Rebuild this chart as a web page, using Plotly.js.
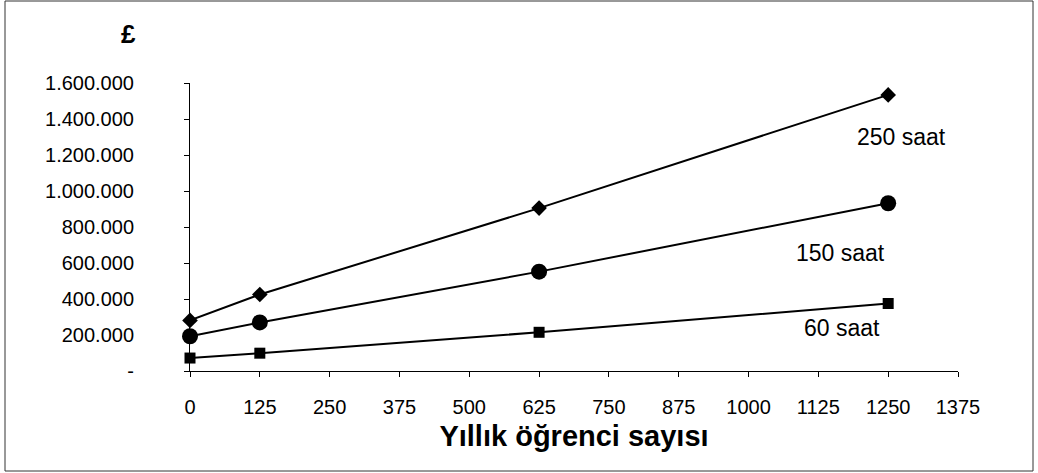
<!DOCTYPE html>
<html>
<head>
<meta charset="utf-8">
<script src="https://cdn.plot.ly/plotly-3.0.1.min.js"></script>
<style>html,body{margin:0;padding:0;background:#fff;}#chart{width:1038px;height:473px;}</style>
</head>
<body>
<div id="chart"></div>
<script>
const students = [0, 125, 625, 1250];
const cost250 = [281000, 425000, 905000, 1534000];
const cost150 = [193000, 270000, 552000, 932000];
const cost60 = [72000, 99000, 215000, 375000];
const seriesNames = ["250 saat", "150 saat", "60 saat"];
const xTicks = [0, 125, 250, 375, 500, 625, 750, 875, 1000, 1125, 1250, 1375];
const yTickVals = [0, 200000, 400000, 600000, 800000, 1000000, 1200000, 1400000, 1600000];
const yTickText = ["-", "200.000", "400.000", "600.000", "800.000", "1.000.000", "1.200.000", "1.400.000", "1.600.000"];

const font = "Liberation Sans, Arial, sans-serif";
const mk = (y, name, symbol, size) => ({
  x: students, y: y, name: name, type: "scatter", mode: "lines+markers",
  line: {color: "#000", width: 2},
  marker: {symbol: symbol, size: size, color: "#000"},
  cliponaxis: false, showlegend: false
});
const data = [
  mk(cost250, seriesNames[0], "diamond", 12),
  mk(cost150, seriesNames[1], "circle", 16),
  mk(cost60, seriesNames[2], "square", 11)
];
const layout = {
  width: 1038, height: 473,
  margin: {l: 190, r: 80, t: 83, b: 102},
  paper_bgcolor: "#fff", plot_bgcolor: "#fff",
  font: {family: font, color: "#000", size: 20},
  xaxis: {
    range: [0, 1375], tickvals: xTicks, ticktext: xTicks.map(String),
    showgrid: false, zeroline: false, showline: true, linecolor: "#000", linewidth: 1,
    ticks: "outside", ticklen: 5, tickcolor: "#000", ticklabelstandoff: 13,
    tickfont: {size: 20, family: font},
    title: {text: "<b>Yıllık öğrenci sayısı</b>", font: {size: 29, family: font}, standoff: 8}
  },
  yaxis: {
    range: [0, 1600000], tickvals: yTickVals, ticktext: yTickText,
    showgrid: false, zeroline: false, showline: true, linecolor: "#000", linewidth: 1,
    ticks: "outside", ticklen: 5, tickcolor: "#000", ticklabelstandoff: 46,
    tickfont: {size: 20, family: font}
  },
  annotations: [
    {text: "<b>£</b>", xref: "paper", yref: "paper", x: -0.068, y: 1.17, xanchor: "right", yanchor: "middle", showarrow: false, font: {size: 26, family: font}},
    {text: seriesNames[0], xref: "paper", yref: "paper", x: (948-190)/768, y: (371-137)/288, xanchor: "right", yanchor: "middle", showarrow: false, font: {size: 23, family: font}},
    {text: seriesNames[1], xref: "paper", yref: "paper", x: (887-190)/768, y: (371-253)/288, xanchor: "right", yanchor: "middle", showarrow: false, font: {size: 23, family: font}},
    {text: seriesNames[2], xref: "paper", yref: "paper", x: (882-190)/768, y: (371-328)/288, xanchor: "right", yanchor: "middle", showarrow: false, font: {size: 23, family: font}}
  ],
  shapes: [
    {type: "rect", xref: "paper", yref: "paper", x0: (5-190)/768, x1: (1033-190)/768, y0: (371-471)/288, y1: (371-1)/288, line: {color: "#333", width: 1}}
  ]
};
Plotly.newPlot("chart", data, layout, {displayModeBar: false, staticPlot: true});
</script>
</body>
</html>
